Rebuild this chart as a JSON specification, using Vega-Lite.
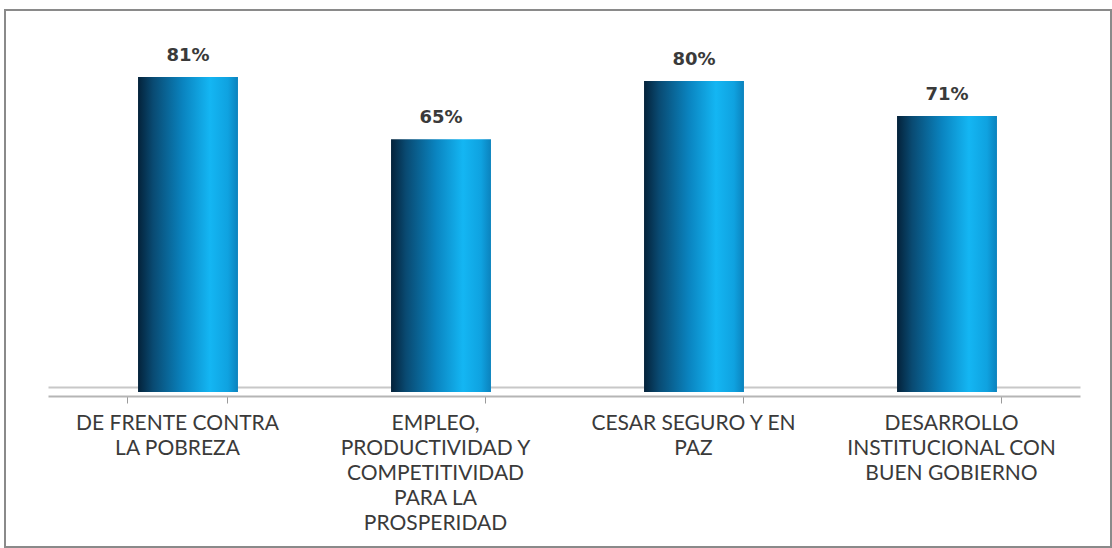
{
  "$schema": "https://vega.github.io/schema/vega-lite/v6.json",
  "width": 1106,
  "height": 537,
  "autosize": {"type": "none"},
  "padding": {"left": 5, "top": 10, "right": 1, "bottom": 1},
  "background": "white",
  "config": {
    "view": {"stroke": "#8a8a8a", "strokeWidth": 2},
    "font": "Lato"
  },
  "data": {
    "values": [
      {"eje": "DE FRENTE CONTRA|LA POBREZA", "valor": 0.81},
      {"eje": "EMPLEO,|PRODUCTIVIDAD Y|COMPETITIVIDAD|PARA LA|PROSPERIDAD", "valor": 0.65},
      {"eje": "CESAR SEGURO Y EN|PAZ", "valor": 0.80},
      {"eje": "DESARROLLO|INSTITUCIONAL CON|BUEN GOBIERNO", "valor": 0.71}
    ]
  },
  "layer": [
    {
      "mark": {"type": "tick", "opacity": 0},
      "encoding": {
        "x": {
          "field": "eje", "type": "nominal", "sort": null, "title": null,
          "scale": {"range": [43, 1075], "paddingInner": 0.61, "paddingOuter": 0.305},
          "axis": {
            "orient": "bottom",
            "offset": -151,
            "domainColor": "#b5b5b5",
            "domainWidth": 2,
            "tickBand": "extent",
            "tickColor": "#9a9a9a",
            "tickSize": 7,
            "labelAngle": 0,
            "labelExpr": "split(datum.label, '|')",
            "labelFont": "Lato",
            "labelFontSize": 21,
            "labelColor": "#3a3a3a",
            "labelLineHeight": 25,
            "labelPadding": 9,
            "labelLimit": 0,
            "labelBaseline": "top"
          }
        },
        "y": {
          "field": "valor", "type": "quantitative",
          "scale": {"domain": [0, 0.9], "range": [382, 32]},
          "axis": null
        }
      }
    },
    {
      "mark": {"type": "tick", "opacity": 0},
      "encoding": {
        "x": {
          "field": "eje", "type": "nominal", "sort": null, "title": null,
          "scale": {"range": [43, 1075], "paddingInner": 0.61, "paddingOuter": 0.305},
          "axis": {
            "orient": "top",
            "offset": -377,
            "domainColor": "#c8c8c8",
            "domainWidth": 2,
            "ticks": false,
            "labels": false
          }
        },
        "y": {
          "field": "valor", "type": "quantitative",
          "scale": {"domain": [0, 0.9], "range": [382, 32]},
          "axis": null
        }
      }
    },
    {
      "mark": {
        "type": "bar",
        "color": {
          "gradient": "linear",
          "x1": 0, "x2": 1, "y1": 0, "y2": 0,
          "stops": [
            {"offset": 0, "color": "#04223a"},
            {"offset": 0.15, "color": "#094a72"},
            {"offset": 0.45, "color": "#0a84c0"},
            {"offset": 0.72, "color": "#14b6f3"},
            {"offset": 0.9, "color": "#0fa2e0"},
            {"offset": 1, "color": "#0b82bd"}
          ]
        }
      },
      "encoding": {
        "x": {
          "field": "eje", "type": "nominal", "sort": null, "title": null,
          "scale": {"range": [56.5, 1068.5], "paddingInner": 0.605, "paddingOuter": 0.3025},
          "axis": null
        },
        "y": {
          "field": "valor", "type": "quantitative",
          "scale": {"domain": [0, 0.9], "range": [382, 32]},
          "axis": null
        }
      }
    },
    {
      "mark": {"type": "text", "baseline": "bottom", "dy": -12, "font": "DejaVu Sans", "fontSize": 18, "fontWeight": "bold", "color": "#3a3a3a"},
      "encoding": {
        "x": {
          "field": "eje", "type": "nominal", "sort": null, "title": null,
          "scale": {"range": [56.5, 1068.5], "paddingInner": 0.605, "paddingOuter": 0.3025},
          "axis": null
        },
        "y": {
          "field": "valor", "type": "quantitative",
          "scale": {"domain": [0, 0.9], "range": [382, 32]},
          "axis": null
        },
        "text": {"field": "valor", "type": "quantitative", "format": ".0%"}
      }
    }
  ],
  "resolve": {"scale": {"x": "independent"}, "axis": {"x": "independent"}}
}
